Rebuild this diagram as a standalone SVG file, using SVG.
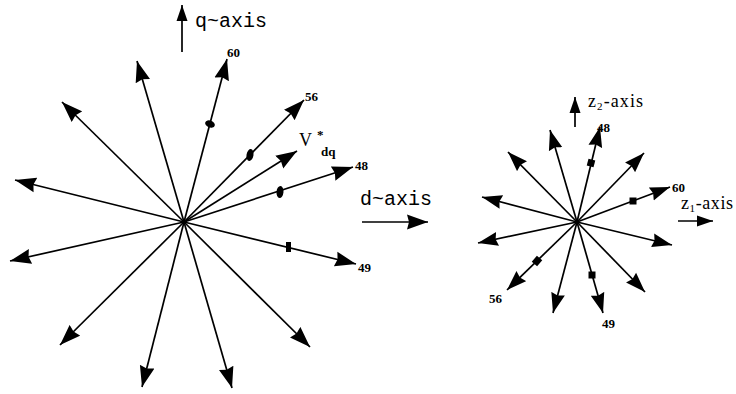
<svg xmlns="http://www.w3.org/2000/svg" width="736" height="394" viewBox="0 0 736 394">
<style>
.ln{stroke:#000;stroke-width:1.7;fill:none}
.big{marker-end:url(#ahL)}
.sm{marker-end:url(#ahR)}
.lbl{font-family:"Liberation Serif",serif;font-size:13px;font-weight:bold;fill:#000}
.ax{font-family:"Liberation Mono",monospace;font-size:20px;fill:#000}
.zx{font-family:"Liberation Serif",serif;font-size:18px;fill:#000}
.mk{fill:#000}
</style>
<defs>
<marker id="ahL" markerUnits="userSpaceOnUse" markerWidth="24" markerHeight="16" refX="21" refY="7.5" orient="auto" viewBox="0 0 24 15">
<path d="M0,0 L21,7.5 L0,15 L2,7.5 Z" fill="#000"/>
</marker>
<marker id="ahR" markerUnits="userSpaceOnUse" markerWidth="22" markerHeight="15" refX="20" refY="7" orient="auto" viewBox="0 0 22 14">
<path d="M0,0 L20,7 L0,14 L2,7 Z" fill="#000"/>
</marker>
<marker id="ahA" markerUnits="userSpaceOnUse" markerWidth="18" markerHeight="12" refX="16" refY="5.5" orient="auto" viewBox="0 0 18 11">
<path d="M0,0 L16,5.5 L0,11 Z" fill="#000"/>
</marker>
</defs>
<g id="connectors">
<g id="left-star">
<line class="ln big" x1="184" y1="222" x2="227" y2="59"/>
<line class="ln big" x1="184" y1="222" x2="137" y2="61"/>
<line class="ln big" x1="184" y1="222" x2="62" y2="102"/>
<line class="ln big" x1="184" y1="222" x2="15" y2="180"/>
<line class="ln big" x1="184" y1="222" x2="304" y2="100"/>
<line class="ln big" x1="184" y1="222" x2="297" y2="151"/>
<line class="ln big" x1="184" y1="222" x2="353" y2="167"/>
<line class="ln big" x1="184" y1="222" x2="356" y2="264"/>
<line class="ln big" x1="184" y1="222" x2="10" y2="261"/>
<line class="ln big" x1="184" y1="222" x2="60" y2="345"/>
<line class="ln big" x1="184" y1="222" x2="142" y2="387"/>
<line class="ln big" x1="184" y1="222" x2="232" y2="388"/>
<line class="ln big" x1="184" y1="222" x2="310" y2="347"/>
</g>
<g id="right-star">
<line class="ln sm" x1="577" y1="222" x2="600" y2="127"/>
<line class="ln sm" x1="577" y1="222" x2="550" y2="130"/>
<line class="ln sm" x1="577" y1="222" x2="508" y2="152"/>
<line class="ln sm" x1="577" y1="222" x2="482" y2="197"/>
<line class="ln sm" x1="577" y1="222" x2="478" y2="243"/>
<line class="ln sm" x1="577" y1="222" x2="507" y2="290"/>
<line class="ln sm" x1="577" y1="222" x2="553" y2="313"/>
<line class="ln sm" x1="577" y1="222" x2="603" y2="313"/>
<line class="ln sm" x1="577" y1="222" x2="645" y2="292"/>
<line class="ln sm" x1="577" y1="222" x2="672" y2="245"/>
<line class="ln sm" x1="577" y1="222" x2="670" y2="187"/>
<line class="ln sm" x1="577" y1="222" x2="644" y2="153"/>
</g>
<g id="axis-arrows">
<line class="ln" x1="182" y1="52" x2="182" y2="5" marker-end="url(#ahA)"/>
<line class="ln" x1="362" y1="222" x2="428" y2="222" marker-end="url(#ahL)"/>
<line class="ln" x1="575" y1="127" x2="575" y2="97" marker-end="url(#ahA)"/>
<line class="ln" x1="678" y1="221" x2="713" y2="221" marker-end="url(#ahA)"/>
</g>
</g>
<g id="markers">
<ellipse class="mk" cx="210" cy="124" rx="3.5" ry="5" transform="rotate(-70 210 124)"/>
<ellipse class="mk" cx="250" cy="155" rx="3.5" ry="6" transform="rotate(10 250 155)"/>
<ellipse class="mk" cx="280" cy="192" rx="3.5" ry="6" transform="rotate(5 280 192)"/>
<rect class="mk" x="286" y="242" width="5" height="10"/>
<rect class="mk" x="587.5" y="159.5" width="7" height="7" transform="rotate(15 591 163)"/>
<rect class="mk" x="629.5" y="197.5" width="7" height="7"/>
<rect class="mk" x="533.5" y="257" width="7" height="8" transform="rotate(40 537 261)"/>
<rect class="mk" x="588.5" y="271.5" width="7" height="7"/>
</g>
<g id="labels">
<g id="q-axis"><text class="ax" x="195" y="27">q~axis</text></g>
<g id="d-axis"><text class="ax" x="360" y="205">d~axis</text></g>
<g id="lbl-60"><text class="lbl" x="227" y="57">60</text></g>
<g id="lbl-56"><text class="lbl" x="305" y="101">56</text></g>
<g id="lbl-48"><text class="lbl" x="355" y="170">48</text></g>
<g id="lbl-49"><text class="lbl" x="358" y="272">49</text></g>
<g id="vdq"><text class="zx" x="299" y="146" font-size="17">V</text><text class="lbl" x="317" y="139" font-size="15">*</text><text class="lbl" x="321" y="156" font-size="12">dq</text></g>
<g id="z2-axis"><text class="zx" x="588" y="107" textLength="55" lengthAdjust="spacing">z<tspan font-size="11" dy="3">2</tspan><tspan dy="-3">-axis</tspan></text></g>
<g id="z1-axis"><text class="zx" x="681" y="209" textLength="52" lengthAdjust="spacing">z<tspan font-size="11" dy="3">1</tspan><tspan dy="-3">-axis</tspan></text></g>
<g id="rlbl-48"><text class="lbl" x="597" y="132">48</text></g>
<g id="rlbl-60"><text class="lbl" x="672" y="192">60</text></g>
<g id="rlbl-56"><text class="lbl" x="489" y="303">56</text></g>
<g id="rlbl-49"><text class="lbl" x="602" y="328">49</text></g>
</g>
</svg>
